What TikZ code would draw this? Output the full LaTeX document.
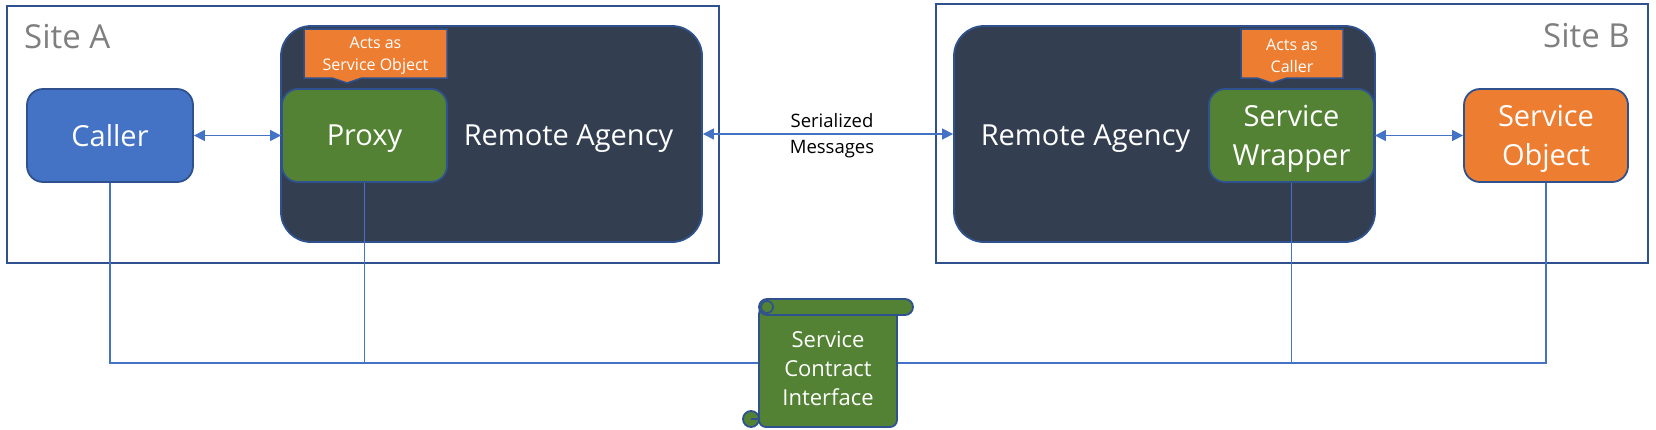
\documentclass[tikz,border=0pt]{standalone}
\usepackage{fontspec}
\setmainfont{Open Sans}
\usetikzlibrary{arrows.meta}
\definecolor{bord}{HTML}{2F528F}
\definecolor{cblue}{HTML}{4472C4}
\definecolor{cgreen}{HTML}{548235}
\definecolor{corange}{HTML}{ED7D31}
\definecolor{cdark}{HTML}{333F50}
\definecolor{cgray}{HTML}{7F7F7F}
\begin{document}
\begin{tikzpicture}[x=1pt,y=-1pt,
 site/.style={draw=bord,line width=2pt},
 agency/.style={draw=bord,fill=cdark,line width=1.8pt,rounded corners=30pt,inner sep=0,minimum width=421pt,minimum height=216pt},
 box/.style={draw=bord,line width=1.8pt,rounded corners=16pt,inner sep=0,minimum width=165pt,minimum height=93pt,text=white,align=center,font=\fontsize{29}{39}\selectfont},
 big/.style={text=white,font=\fontsize{29}{39}\selectfont,inner sep=0},
 call/.style={fill=corange,draw=bord,line width=1.5pt},
 calltext/.style={text=white,align=center,font=\fontsize{16}{22}\selectfont,inner sep=0},
 conn/.style={draw=cblue,line width=1.3pt},
 dbl/.style={conn,{Triangle[length=11pt,width=11pt]}-{Triangle[length=11pt,width=11pt]}},
 sitelabel/.style={text=cgray,font=\fontsize{33}{40}\selectfont,inner sep=0},
 scrollsty/.style={fill=cgreen,draw=bord,line width=1.8pt}
]
\useasboundingbox (0,0) rectangle (1656,429);
% sites
\draw[site] (7,6) rectangle (719,263);
\draw[site] (936,4) rectangle (1648,263);
\node[sitelabel,anchor=base west] (siteA) at (24,48) {Site A};
\node[sitelabel,anchor=base east] (siteB) at (1630,47) {Site B};
% remote agencies
\node[agency] (agA) at (491.5,134) {};
\node[agency] (agB) at (1164.5,134) {};
\node[big] (agAt) at (568.5,138.5) {Remote Agency};
\node[big] (agBt) at (1085.5,138.5) {Remote Agency};
% callouts
\filldraw[call] (304,29) -- (447,29) -- (447,78) -- (362,78) -- (347,83) -- (332,78) -- (304,78) -- cycle;
\node[calltext] (cA) at (375.5,55.5) {Acts as\\Service Object};
\filldraw[call] (1241,29) -- (1343,29) -- (1343,78) -- (1287,78) -- (1272,83) -- (1257,78) -- (1241,78) -- cycle;
\node[calltext] (cB) at (1292,55.5) {Acts as\\Caller};
% boxes
\node[box,fill=cblue,minimum width=166pt] (caller) at (110,135.5) {Caller};
\node[box,fill=cgreen,text depth=0pt] (proxy) at (364.5,135.5) {Proxy};
\node[box,fill=cgreen,text depth=0pt] (sw) at (1291.5,135.5) {Service\\Wrapper};
\node[box,fill=corange,minimum width=164pt,text depth=0pt] (so) at (1546,135.5) {Service\\Object};
% arrows
\draw[dbl] (caller) -- (proxy);
\draw[dbl] (agA) -- (agB);
\draw[dbl] (sw) -- (so);
\node[font=\fontsize{18.5}{26}\selectfont,align=center,inner sep=0] (ser) at (832,135.5) {Serialized\\Messages};
% scroll
\node[minimum width=138pt,minimum height=128pt,inner sep=0] (sci) at (828,363) {};
\draw[conn] (caller.south) |- (sci.west);
\draw[conn] (proxy.south) -- (proxy.south |- sci.west);
\draw[conn] (so.south) |- (sci.east);
\draw[conn] (sw.south) -- (sw.south |- sci.east);
\filldraw[scrollsty,rounded corners=7pt] (759,307) rectangle (897,427);
\filldraw[scrollsty,rounded corners=8pt] (759,299) rectangle (913,315);
\draw[draw=bord,line width=1.8pt] (767,307) circle (6);
\filldraw[scrollsty] (751,419) circle (8);
\draw[draw=bord,line width=1.5pt] (751,419) -- (759,419);
\node[text=white,align=center,font=\fontsize{22}{29}\selectfont,inner sep=0] (scit) at (828,369) {Service\\Contract\\Interface};
\end{tikzpicture}
\end{document}
